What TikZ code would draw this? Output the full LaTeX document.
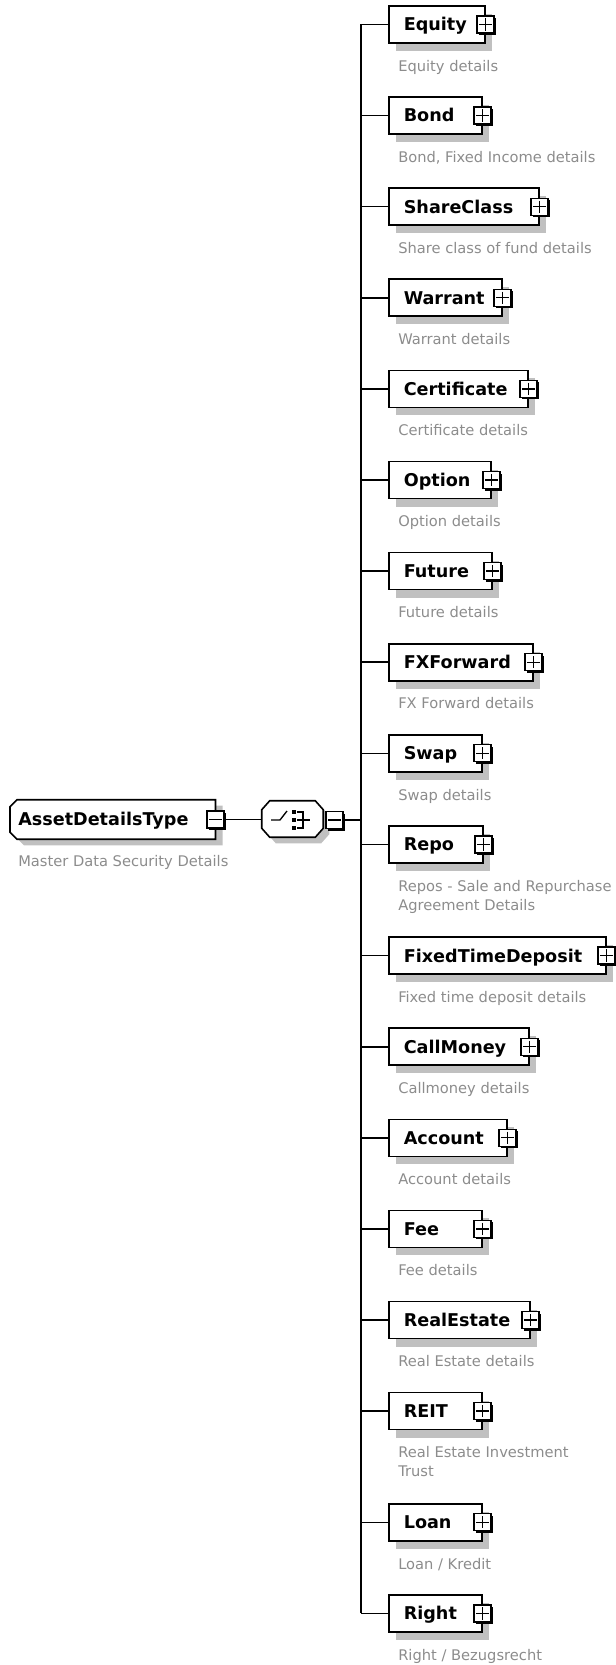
\documentclass[tikz,border=0pt]{standalone}
\usepackage{fontspec}
\setmainfont{DejaVu Sans}
\usetikzlibrary{calc,shadows,backgrounds}
\definecolor{shadowgray}{RGB}{192,192,192}
\definecolor{descgray}{RGB}{140,140,140}
\begin{document}
\begin{tikzpicture}[x=0.75pt,y=-0.75pt,
  conn/.style={line width=1.2pt, black},
  outline/.style={line width=1.2pt, draw=black, fill=white},
  lbl/.style={font=\bfseries\fontsize{13.2pt}{15pt}\selectfont, text height=11.2pt, text depth=1.6pt, align=left, inner ysep=0pt},
  childbox/.style={lbl, draw, line width=1.2pt, fill=white, anchor=west, minimum height=27.75pt, inner xsep=11.25pt,
    general shadow={fill=shadowgray, shadow xshift=5.25pt, shadow yshift=-6pt}},
  pmbox/.style={draw, line width=1pt, fill=white, minimum size=12.75pt, inner sep=0pt,
    general shadow={fill=black, shadow xshift=1.5pt, shadow yshift=-1.5pt}},
  sign/.style={line width=1pt, black},
  desc/.style={anchor=north west, inner sep=0pt, align=left, text=descgray, font=\fontsize{11pt}{14.25pt}\selectfont}
]
\useasboundingbox (0,0) rectangle (616,1665);

% root
\node[lbl, anchor=west, minimum height=29.25pt, inner xsep=6pt, text width=141.75pt] (root) at (10,819.5) {AssetDetailsType};
\begin{pgfonlayer}{background}
\fill[shadowgray] ([shift={(7,13)}]root.north west) -- ([shift={(14,6)}]root.north west) -- ([shift={(7,6)}]root.north east)
  -- ([shift={(7,6)}]root.south east) -- ([shift={(14,6)}]root.south west) -- ([shift={(7,-1)}]root.south west) -- cycle;
\path[outline] ([shift={(0,7)}]root.north west) -- ([shift={(7,0)}]root.north west) -- (root.north east)
  -- (root.south east) -- ([shift={(7,0)}]root.south west) -- ([shift={(0,-7)}]root.south west) -- cycle;
\end{pgfonlayer}
\node[desc] (rootdesc) at ([shift={(8,33.2)}]root.west) {\strut Master Data Security Details};
\node[pmbox] (rm) at (root.east) {};
\draw[sign] ([xshift=2.25pt]rm.west) -- ([xshift=-2.25pt]rm.east);

% choice compositor
\node[minimum width=45.75pt, minimum height=27pt, inner sep=0pt] (choice) at (292.5,819) {};
\begin{pgfonlayer}{background}
\fill[shadowgray] ([shift={(6,15)}]choice.north west) -- ([shift={(14,6)}]choice.north west) -- ([shift={(-2,6)}]choice.north east)
  -- ([shift={(6,15)}]choice.north east) -- ([shift={(6,-3)}]choice.south east) -- ([shift={(-2,6)}]choice.south east)
  -- ([shift={(14,6)}]choice.south west) -- ([shift={(6,-3)}]choice.south west) -- cycle;
\path[outline] ([shift={(0,9)}]choice.north west) -- ([shift={(8,0)}]choice.north west) -- ([shift={(-8,0)}]choice.north east)
  -- ([shift={(0,9)}]choice.north east) -- ([shift={(0,-9)}]choice.south east) -- ([shift={(-8,0)}]choice.south east)
  -- ([shift={(8,0)}]choice.south west) -- ([shift={(0,-9)}]choice.south west) -- cycle;
\end{pgfonlayer}
\draw[line width=1pt] ([shift={(-21.5,1)}]choice.center) -- ([shift={(-12.5,1)}]choice.center) -- ([shift={(-5.5,-8)}]choice.center);
\foreach \dy in {-8,0,8}
  \fill ([shift={(-0.5,\dy-1)}]choice.center) rectangle ([shift={(3.5,\dy+3)}]choice.center);
\draw[line width=1pt] ([shift={(4.5,-7)}]choice.center) -- ([shift={(10.5,-7)}]choice.center) -- ([shift={(10.5,9)}]choice.center) -- ([shift={(4.5,9)}]choice.center);
\draw[line width=1pt] ([shift={(4.5,1)}]choice.center) -- ([shift={(17.5,1)}]choice.center);
\node[pmbox, anchor=west] (cm) at ([shift={(2,1)}]choice.east) {};
\draw[sign] ([xshift=2.25pt]cm.west) -- ([xshift=-2.25pt]cm.east);

\draw[conn] (rm.east) -- (rm.east -| choice.west);
\coordinate (bus) at (361,820);
\draw[conn] (cm.east) -- (bus);

% children
\foreach \i/\lab/\w/\yy/\dtext in {
  1/Equity/49.5/24.5/{Equity details},
  2/Bond/47.25/115.6/{Bond, Fixed Income details},
  3/ShareClass/90/206.7/{Share class of fund details},
  4/Warrant/62.25/297.8/{Warrant details},
  5/Certificate/81.75/388.9/{Certificate details},
  6/Option/54/480.0/{Option details},
  7/Future/54.75/571.1/{Future details},
  8/FXForward/85.5/662.2/{FX Forward details},
  9/Swap/47.25/753.3/{Swap details},
  10/Repo/48/844.4/{Repos - Sale and Repurchase\\Agreement Details},
  11/FixedTimeDeposit/140.25/955.6/{Fixed time deposit details},
  12/CallMoney/82.5/1046.7/{Callmoney details},
  13/Account/66/1137.8/{Account details},
  14/Fee/47.25/1228.9/{Fee details},
  15/RealEstate/83.25/1320.0/{Real Estate details},
  16/REIT/47.25/1411.1/{Real Estate Investment\\Trust},
  17/Loan/47.25/1522.3/{Loan / Kredit},
  18/Right/47.25/1613.4/{Right / Bezugsrecht}}
{
  \node[childbox, text width=\w pt] (n\i) at (388,\yy) {\lab};
  \node[desc] (d\i) at ([shift={(10,33.2)}]n\i.west) {\strut\dtext};
  \node[pmbox] (p\i) at (n\i.east) {};
  \draw[sign] ([xshift=2.25pt]p\i.west) -- ([xshift=-2.25pt]p\i.east)
              ([yshift=-2.25pt]p\i.north) -- ([yshift=2.25pt]p\i.south);
  \draw[conn] (bus |- n\i.west) -- (n\i.west);
}
\draw[conn] (bus |- n1.west) -- (bus |- n18.west);
\end{tikzpicture}
\end{document}
